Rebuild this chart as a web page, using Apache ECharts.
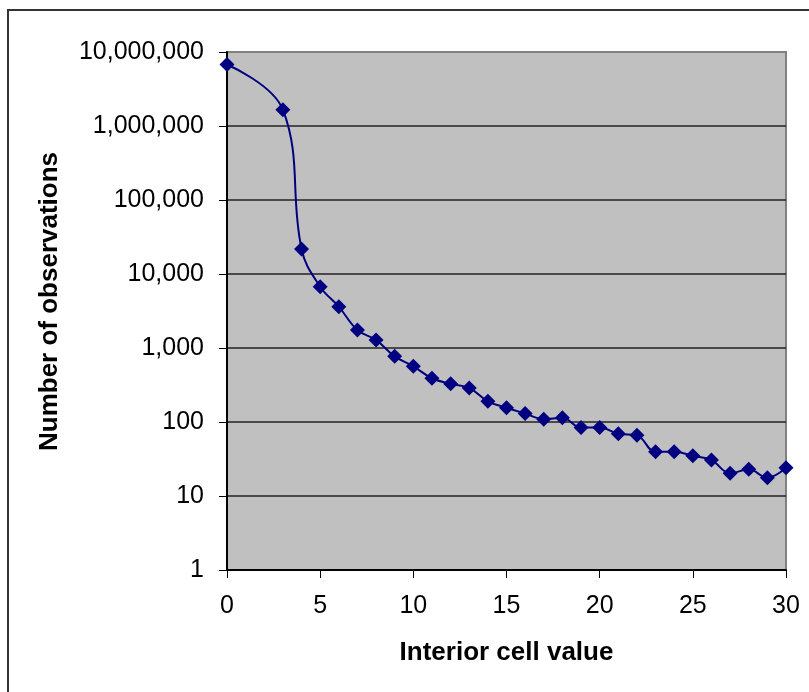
<!DOCTYPE html>
<html>
<head>
<meta charset="utf-8">
<script src="https://cdn.jsdelivr.net/npm/echarts@6/dist/echarts.min.js"></script>
<style>
html,body{margin:0;padding:0;background:#fff;}
#chart{width:809px;height:692px;}
</style>
</head>
<body>
<div id="chart"></div>
<script>
// Data
var cellValues = [0, 3, 4, 5, 6, 7, 8, 9, 10, 11, 12, 13, 14, 15, 16, 17, 18, 19, 20, 21, 22, 23, 24, 25, 26, 27, 28, 29, 30];
var observations = [6770000, 1660000, 21800, 6730, 3620, 1745, 1282, 771, 566, 390, 328, 288, 190, 156, 130, 109, 114, 84, 84, 69.5, 66, 39.5, 39.5, 35, 30.6, 20.3, 22.9, 17.7, 24];
var xTicks = [0, 5, 10, 15, 20, 25, 30];
var yTicks = [1, 10, 100, 1000, 10000, 100000, 1000000, 10000000];
var xTitle = 'Interior cell value';
var yTitle = 'Number of observations';

var seriesData = cellValues.map(function (x, i) { return [x, observations[i]]; });

var chart = echarts.init(document.getElementById('chart'), null, {renderer: 'canvas'});
var font = '"Liberation Sans", Arial, sans-serif';
chart.setOption({
  animation: false,
  backgroundColor: '#ffffff',
  graphic: [{
    type: 'rect',
    shape: {x: 8, y: 10, width: 900, height: 800},
    style: {fill: 'none', stroke: '#333333', lineWidth: 2},
    silent: true,
    z: -1
  }],
  grid: {
    left: 227, top: 52, right: 23, bottom: 122,
    show: true,
    backgroundColor: '#C0C0C0',
    borderColor: '#808080',
    borderWidth: 2
  },
  xAxis: {
    type: 'value',
    min: xTicks[0], max: xTicks[xTicks.length - 1], interval: 5,
    name: xTitle,
    nameLocation: 'middle',
    nameGap: 70,
    nameTextStyle: {fontFamily: font, fontWeight: 'bold', fontSize: 26, color: '#000'},
    axisLine: {show: true, onZero: false, lineStyle: {color: '#000', width: 2}},
    axisTick: {show: true, inside: false, length: 8, lineStyle: {color: '#000', width: 1}},
    axisLabel: {fontFamily: font, fontSize: 25, color: '#000', margin: 24},
    splitLine: {show: false}
  },
  yAxis: {
    type: 'log',
    logBase: 10,
    min: yTicks[0], max: yTicks[yTicks.length - 1],
    name: yTitle,
    nameLocation: 'middle',
    nameGap: 164,
    nameTextStyle: {fontFamily: font, fontWeight: 'bold', fontSize: 26, color: '#000', padding: [0, 0, 0, 19]},
    axisLine: {show: true, onZero: false, lineStyle: {color: '#000', width: 2}},
    axisTick: {show: true, inside: false, length: 8, lineStyle: {color: '#000', width: 1}},
    axisLabel: {
      fontFamily: font, fontSize: 25, color: '#000', margin: 23,
      formatter: function (v) { return Math.round(v).toLocaleString('en-US'); }
    },
    splitLine: {show: true, showMaxLine: false, showMinLine: false, lineStyle: {color: '#222222', width: 1.5}}
  },
  series: [{
    type: 'line',
    data: seriesData,
    smooth: 0.4,
    symbol: 'diamond',
    symbolSize: 15,
    lineStyle: {color: '#000080', width: 2},
    itemStyle: {color: '#000080'},
    clip: false
  }]
});
</script>
</body>
</html>
